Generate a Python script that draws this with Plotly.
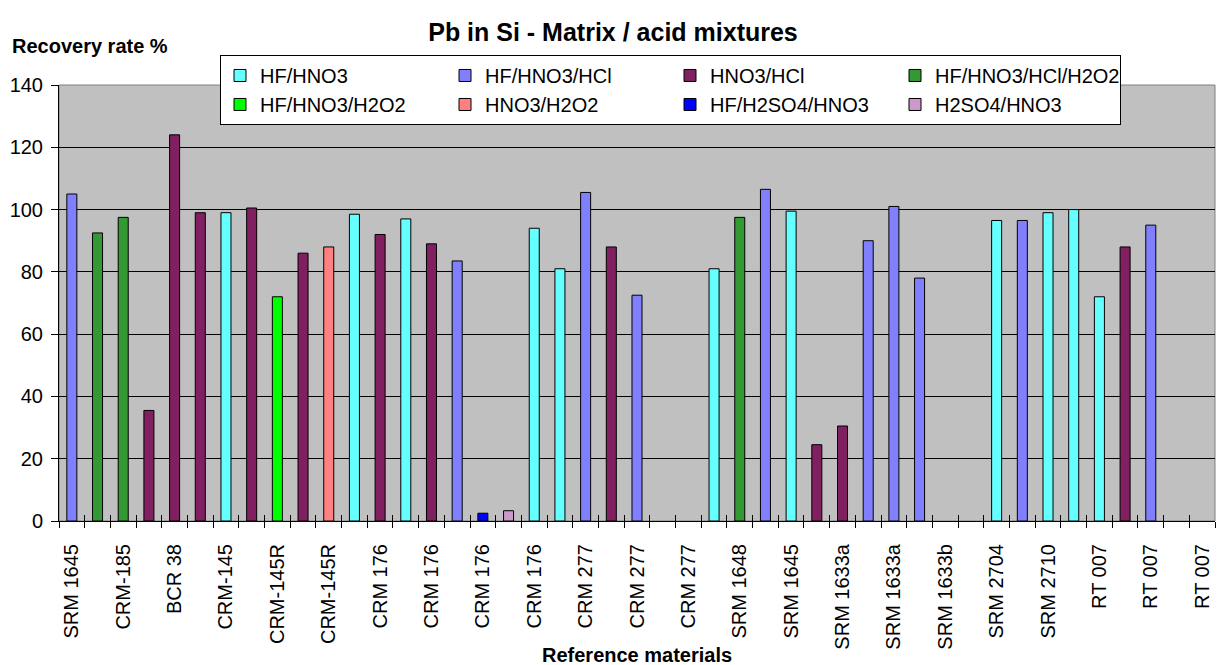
import plotly.graph_objects as go

# Acid mixtures, in legend reading order (row by row)
series_names = ["HF/HNO3", "HF/HNO3/HCl", "HNO3/HCl", "HF/HNO3/HCl/H2O2",
                "HF/HNO3/H2O2", "HNO3/H2O2", "HF/H2SO4/HNO3", "H2SO4/HNO3"]
series_colors = ["#66FFFF", "#8080FF", "#802060", "#339933",
                 "#00FF00", "#FF8080", "#0000FF", "#CC99CC"]

# Reference-material labels; every second digestion slot carries one
tick_labels = ["SRM 1645", "CRM-185", "BCR 38", "CRM-145", "CRM-145R", "CRM-145R",
               "CRM 176", "CRM 176", "CRM 176", "CRM 176", "CRM 277", "CRM 277",
               "CRM 277", "SRM 1648", "SRM 1645", "SRM 1633a", "SRM 1633a",
               "SRM 1633b", "SRM 2704", "SRM 2710", "RT 007", "RT 007", "RT 007"]

# One entry per digestion slot along the x axis (None = no result)
sample_method = [
    "HF/HNO3/HCl", "HF/HNO3/HCl/H2O2", "HF/HNO3/HCl/H2O2", "HNO3/HCl", "HNO3/HCl",
    "HNO3/HCl", "HF/HNO3", "HNO3/HCl", "HF/HNO3/H2O2", "HNO3/HCl",
    "HNO3/H2O2", "HF/HNO3", "HNO3/HCl", "HF/HNO3", "HNO3/HCl",
    "HF/HNO3/HCl", "HF/H2SO4/HNO3", "H2SO4/HNO3", "HF/HNO3", "HF/HNO3",
    "HF/HNO3/HCl", "HNO3/HCl", "HF/HNO3/HCl", None, None,
    "HF/HNO3", "HF/HNO3/HCl/H2O2", "HF/HNO3/HCl", "HF/HNO3", "HNO3/HCl",
    "HNO3/HCl", "HF/HNO3/HCl", "HF/HNO3/HCl", "HF/HNO3/HCl", None,
    None, "HF/HNO3", "HF/HNO3/HCl", "HF/HNO3", "HF/HNO3",
    "HF/HNO3", "HNO3/HCl", "HF/HNO3/HCl", None, None,
]
recovery = [
    105.0, 92.5, 97.5, 35.5, 124.0,
    99.0, 99.0, 100.5, 72.0, 86.0,
    88.0, 98.5, 92.0, 97.0, 89.0,
    83.5, 2.5, 3.3, 94.0, 81.0,
    105.5, 88.0, 72.5, None, None,
    81.0, 97.5, 106.5, 99.5, 24.5,
    30.5, 90.0, 101.0, 78.0, None,
    None, 96.5, 96.5, 99.0, 100.0,
    72.0, 88.0, 95.0, None, None,
]

FONT = "Arial, 'Liberation Sans', sans-serif"
n_slots = len(sample_method)
label_pos = list(range(0, n_slots, 2))
boundaries = [i - 0.5 for i in range(n_slots + 1)]
x_range = [-0.5, n_slots - 0.5]

fig = go.Figure()

# Traces added column by column so the grouped legend reads as a 4 x 2 grid
n_cols = 4
for col in range(n_cols):
    for row in range(2):
        k = row * n_cols + col
        name = series_names[k]
        xs = [i for i, m in enumerate(sample_method) if m == name]
        ys = [recovery[i] for i in xs]
        fig.add_trace(go.Bar(
            x=xs, y=ys, name=name, width=0.39,
            legendgroup=f"col{col}",
            marker=dict(color=series_colors[k], line=dict(color="black", width=1)),
        ))

# Empty carriers for the two overlay axes that draw the slot-boundary tick marks
for ax in ("x2", "x3"):
    fig.add_trace(go.Scatter(x=[None], y=[None], xaxis=ax, yaxis="y",
                             mode="markers", showlegend=False, hoverinfo="skip"))

# Plot-area frame
fig.add_shape(type="rect", xref="paper", yref="paper", x0=0, x1=1, y0=0, y1=1,
              line=dict(color="#808080", width=1), layer="below")

boundary_axis = dict(overlaying="x", anchor="y", range=x_range, tickmode="array",
                     tickvals=boundaries, ticklen=6, tickcolor="black", tickwidth=1,
                     showticklabels=False, showgrid=False, showline=False,
                     zeroline=False)

fig.update_layout(
    width=1226, height=665,
    margin=dict(l=59, r=11, t=85, b=144, autoexpand=False),
    paper_bgcolor="white", plot_bgcolor="#C0C0C0",
    barmode="overlay",
    font=dict(family=FONT, size=20, color="black"),
    title=dict(text="<b>Pb in Si - Matrix / acid mixtures</b>",
               xref="container", x=0.5, xanchor="center",
               yref="container", y=1 - 32 / 665, yanchor="middle",
               font=dict(size=25, color="black")),
    legend=dict(orientation="h", traceorder="grouped",
                x=(220 - 59) / 1156, xanchor="left",
                y=(520.7 - 55) / 435.7, yanchor="top",
                bgcolor="white", bordercolor="black", borderwidth=1,
                entrywidth=180, entrywidthmode="pixels",
                font=dict(size=20, color="black")),
    xaxis=dict(range=x_range, tickmode="array",
               tickvals=label_pos, ticktext=tick_labels, tickangle=-90,
               ticks="", showline=True, linecolor="black", linewidth=1,
               showgrid=False, zeroline=False, ticklabelstandoff=14,
               tickfont=dict(size=20, color="black")),
    xaxis2=dict(boundary_axis, ticks="outside"),
    xaxis3=dict(boundary_axis, ticks="inside"),
    yaxis=dict(range=[0, 140], tickmode="linear", tick0=0, dtick=20,
               ticks="outside", ticklen=7, tickcolor="black", tickwidth=1,
               showline=True, linecolor="black", linewidth=1,
               showgrid=True, gridcolor="black", gridwidth=1, zeroline=False,
               ticklabelstandoff=4, tickfont=dict(size=20, color="black")),
    annotations=[
        dict(text="<b>Recovery rate %</b>", xref="paper", yref="paper",
             x=(10 - 59) / 1156, xanchor="left", y=(520.7 - 46) / 435.7,
             yanchor="middle", showarrow=False, font=dict(size=20, color="black")),
        dict(text="<b>Reference materials</b>", xref="paper", yref="paper",
             x=0.5, xanchor="center", y=(520.7 - 655) / 435.7,
             yanchor="middle", showarrow=False, font=dict(size=20, color="black")),
    ],
)

fig.write_html("out.html")
